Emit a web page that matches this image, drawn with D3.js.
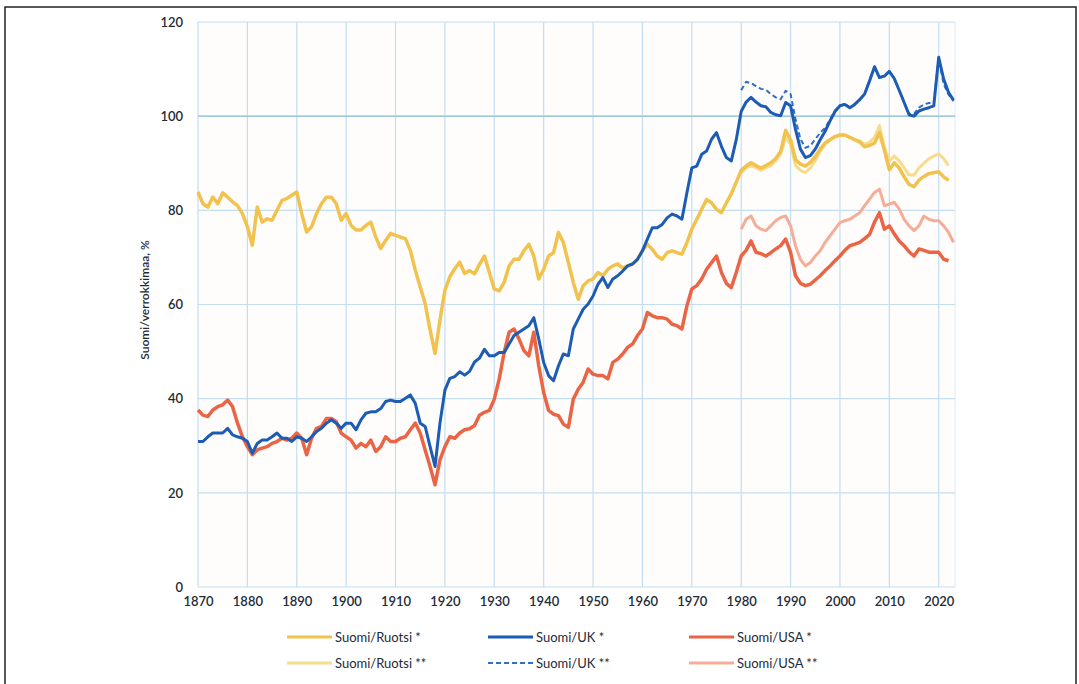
<!DOCTYPE html>
<head>
    <meta charset="utf-8">
    <script src="https://d3js.org/d3.v7.min.js"></script>
    <style>
        body { margin: 0; background: #fff; }
        text { font-family: Lato, "Open Sans", sans-serif; fill: #222b38; }
    </style>
</head>

<div id="my_dataviz"></div>

<script>
// ---- data ----
var startYear = 1870;
var startYear2 = 1980;

// Suomi/Ruotsi *  1870-2022
var ruotsi1 = [83.9,81.4,80.7,82.8,81.4,83.7,82.8,81.8,81,79.3,
    76.5,72.6,80.7,77.5,78.2,77.9,80,82.1,82.5,83.2,
    83.9,79.3,75.4,76.5,79.3,81.4,82.8,82.8,81.4,77.9,
    79.3,76.8,75.8,75.8,76.8,77.5,74.3,71.9,73.6,75.1,
    74.7,74.3,74,71.5,67.3,63.7,60.2,54.6,49.6,56.7,
    63,65.9,67.6,69,66.6,67.2,66.5,68.5,70.3,66.8,
    63.3,62.9,64.7,68.2,69.6,69.6,71.4,72.8,70.3,65.4,
    67.5,70.3,71,75.3,73.1,68.9,64.7,61.1,64,65,
    65.4,66.8,66.1,67.5,68.2,68.6,67.8,68.2,68.6,69.6,
    71.4,72.8,71.7,70.3,69.6,71,71.4,71,70.7,73.1,
    76,78.1,80.2,82.3,81.6,80.2,79.5,81.6,83.5,86,
    88.5,89.4,90.1,89.5,89,89.5,90.1,91,92.5,97,
    95,90.8,89.8,89.4,90.2,91.4,93,94.3,95,95.7,
    96,96,95.5,95,94.5,93.5,93.8,94.3,96.5,92.8,
    88.6,90.1,89,87.1,85.5,85,86.4,87.2,87.8,88,
    88.2,87.1,86.4];

// Suomi/UK *  1870-2023
var uk1 = [30.9,30.9,31.9,32.7,32.7,32.7,33.7,32.3,31.9,31.6,
    30.9,28.4,30.5,31.2,31.2,31.9,32.7,31.6,31.6,30.9,
    31.9,31.6,30.9,31.9,33,33.7,34.8,35.5,34.8,33.7,
    34.8,34.8,33.4,35.5,36.9,37.2,37.2,37.9,39.4,39.7,
    39.4,39.4,40.1,40.8,39,34.8,34.1,29.8,25.6,34.8,
    41.8,44.3,44.7,45.7,45,45.8,47.8,48.6,50.5,49.1,
    49.1,49.8,49.8,51.6,53.4,54.1,54.8,55.5,57.2,52.7,
    47.7,44.9,43.8,47,49.5,49.1,54.8,56.9,59,60.1,
    61.8,64.3,65.7,63.6,65.4,66.1,67.1,68.2,68.6,69.6,
    71.4,73.9,76.3,76.3,77,78.4,79.2,78.8,78.1,83.7,
    89,89.4,91.9,92.6,95.1,96.5,93.6,91.2,90.5,95,
    101,103,104,103,102.2,102,100.8,100.3,100.1,102.9,
    102.2,97.2,93,91.2,91.6,93,95,96.8,99,101,
    102.2,102.5,101.8,102.5,103.5,104.7,107.5,110.5,108.2,108.5,
    109.5,108,105.5,102.9,100.3,100,101.1,101.5,101.8,102.2,
    112.5,107.9,105,103.4];

// Suomi/USA *  1870-2022
var usa1 = [37.6,36.5,36.2,37.6,38.3,38.7,39.7,38.3,34.8,31.9,
    29.8,28.1,29.1,29.5,29.8,30.5,30.9,31.6,31.2,31.6,
    32.7,31.6,28.1,31.6,33.7,34.1,35.8,35.8,35.1,32.7,
    31.9,31.2,29.5,30.5,29.8,31.2,28.8,29.8,31.9,30.9,
    30.9,31.6,31.9,33.4,34.8,32.7,29.1,25.6,21.7,27,
    29.8,31.9,31.6,32.7,33.4,33.6,34.3,36.5,37.1,37.5,
    39.9,44.2,49.8,54.1,54.8,52.7,50.2,49.1,54.1,47,
    41.3,37.5,36.7,36.4,34.6,33.9,39.9,42,43.5,46.3,
    45.2,44.9,44.9,44.2,47.7,48.4,49.5,50.9,51.6,53.4,
    54.8,58.3,57.6,57.2,57.2,56.9,55.8,55.5,54.8,59.7,
    63.3,64,65.4,67.5,68.9,70.3,66.8,64.5,63.6,66.8,
    70.3,71.5,73.5,71.1,70.8,70.3,71,71.8,72.5,73.9,
    71.1,66.1,64.5,64,64.3,65.2,66.1,67.2,68.2,69.3,
    70.3,71.5,72.5,72.8,73.2,74,74.9,77.5,79.5,76,
    76.7,75,73.5,72.5,71.2,70.3,71.8,71.5,71.1,71.1,
    71.1,69.6,69.3];

// ** series, 1980 onwards
var ruotsi2 = [88,89,89.5,89,88.5,89,89.5,90.5,92,95.5,
    94,89.5,88.5,88,89,90.5,92.5,94,95,95.5,
    95.8,96,95.5,95,94.8,94,94.5,95.5,98,93.5,
    90.5,91.5,90.5,89,87.5,87.5,89,90,91,91.5,
    92,91,89.5];

var uk2 = [105.5,107.3,107,106.4,105.8,105.6,104.7,104,103.6,105.4,
    104.7,99.4,95.1,93.3,93.7,95.1,96.5,97.5,99.3,101.2,
    102.3,102.6,101.9,102.6,103.6,104.8,107.6,110.5,108.2,108.5,
    109.5,108,105.5,103,100.5,100.5,101.8,102.5,102.8,103,
    112.3,106.8,104.6,103.2];

var usa2 = [76,78.1,78.8,76.7,76,75.7,76.7,77.8,78.5,78.8,
    76.7,72.5,69.6,68.2,68.9,70.3,71.4,73.2,74.6,76,
    77.4,77.8,78.1,78.8,79.5,81,82.4,83.8,84.5,81,
    81.3,81.7,80.3,78.1,76.7,75.7,76.7,78.8,78.1,77.8,
    77.8,76.7,75.3,73.2];

var xTicks = d3.range(1870, 2021, 10);
var yTicks = [0, 20, 40, 60, 80, 100, 120];

// series table for drawing + legend
var series = [
    { name: "Suomi/Ruotsi **", values: ruotsi2, start: startYear2, color: "#f8dc8e", width: 3, dash: null },
    { name: "Suomi/USA **", values: usa2, start: startYear2, color: "#f5ad98", width: 3, dash: null },
    { name: "Suomi/Ruotsi *", values: ruotsi1, start: startYear, color: "#f1c24e", width: 3.5, dash: null },
    { name: "Suomi/USA *", values: usa1, start: startYear, color: "#ea6446", width: 3.5, dash: null },
    { name: "Suomi/UK **", values: uk2, start: startYear2, color: "#2f6fc6", width: 2, dash: "5,3" },
    { name: "Suomi/UK *", values: uk1, start: startYear, color: "#1c5cb4", width: 3, dash: null }
];

// ---- svg ----
var W = 1079, H = 684;
var svg = d3.select("#my_dataviz")
    .append("svg")
    .attr("width", W)
    .attr("height", H);

// outer frame
svg.append("rect")
    .attr("x", 5).attr("y", 7)
    .attr("width", 1071).attr("height", 690)
    .attr("fill", "#fff")
    .attr("stroke", "#222")
    .attr("stroke-width", 1.5);

var x = d3.scaleLinear().domain([1870, 2023.3]).range([198, 955]);
var y = d3.scaleLinear().domain([0, 120]).range([587, 22]);

// plot background (scan is slightly warm)
svg.append("rect")
    .attr("x", x.range()[0]).attr("y", y(120))
    .attr("width", x.range()[1] - x.range()[0])
    .attr("height", y(0) - y(120))
    .attr("fill", "#fffdfc");

// grid
svg.append("g")
    .selectAll("line")
    .data(xTicks)
    .join("line")
    .attr("x1", function(d) { return x(d) })
    .attr("x2", function(d) { return x(d) })
    .attr("y1", y(120))
    .attr("y2", y(0))
    .attr("stroke", "#c3def0")
    .attr("stroke-width", 1.2);

svg.append("line")
    .attr("x1", x.range()[1]).attr("x2", x.range()[1])
    .attr("y1", y(120)).attr("y2", y(0))
    .attr("stroke", "#dcebf3");

svg.append("g")
    .selectAll("line")
    .data(yTicks)
    .join("line")
    .attr("x1", x.range()[0])
    .attr("x2", x.range()[1])
    .attr("y1", function(d) { return y(d) })
    .attr("y2", function(d) { return y(d) })
    .attr("stroke", function(d) { return d == 100 ? "#a2cbe2" : "#c3def0" })
    .attr("stroke-width", function(d) { return d == 100 ? 1.6 : 1.2 });

// axes (labels only, no domain lines)
var xAxis = svg.append("g")
    .attr("transform", "translate(0," + (y(0) + 4) + ")")
    .call(d3.axisBottom(x).tickValues(xTicks).tickFormat(d3.format("d")).tickSize(0));
xAxis.select(".domain").remove();
xAxis.selectAll("text").attr("font-size", 13).attr("font-family", "Lato, sans-serif")
    .attr("font-weight", 600).attr("fill", "#243040").attr("dy", "0.9em");

var yAxis = svg.append("g")
    .attr("transform", "translate(" + (x.range()[0] - 12) + ",0)")
    .call(d3.axisLeft(y).tickValues(yTicks).tickSize(0));
yAxis.select(".domain").remove();
yAxis.selectAll("text").attr("font-size", 13).attr("font-family", "Lato, sans-serif")
    .attr("font-weight", 600).attr("fill", "#243040");

svg.append("text")
    .attr("transform", "translate(149," + 300 + ") rotate(-90)")
    .attr("text-anchor", "middle")
    .attr("font-size", 12)
    .attr("font-weight", 600)
    .text("Suomi/verrokkimaa, %");

// lines
var line = d3.line()
    .x(function(d) { return x(d[0]) })
    .y(function(d) { return y(d[1]) });

svg.append("g")
    .selectAll("path")
    .data(series)
    .join("path")
    .attr("d", function(s) {
        return line(s.values.map(function(v, i) { return [s.start + i, v] }));
    })
    .attr("fill", "none")
    .attr("stroke", function(s) { return s.color })
    .attr("stroke-width", function(s) { return s.width })
    .attr("stroke-dasharray", function(s) { return s.dash })
    .attr("stroke-linejoin", "round");

// legend: 3 columns x 2 rows
var legendOrder = ["Suomi/Ruotsi *", "Suomi/UK *", "Suomi/USA *",
                   "Suomi/Ruotsi **", "Suomi/UK **", "Suomi/USA **"];
var colX = [287, 488, 689];
var rowY = [637, 663];

var leg = svg.append("g")
    .selectAll("g")
    .data(legendOrder)
    .join("g")
    .attr("transform", function(d, i) {
        return "translate(" + colX[i % 3] + "," + rowY[Math.floor(i / 3)] + ")";
    });

leg.append("line")
    .attr("x1", 0).attr("x2", 45)
    .attr("stroke", function(d) { return series.find(function(s) { return s.name == d }).color })
    .attr("stroke-width", function(d) { return series.find(function(s) { return s.name == d }).dash ? 2 : 3 })
    .attr("stroke-dasharray", function(d) { return series.find(function(s) { return s.name == d }).dash });

leg.append("text")
    .attr("x", 48)
    .attr("dy", "0.35em")
    .attr("font-size", 13)
    .attr("fill", "#3a4452")
    .text(function(d) { return d });
</script>
